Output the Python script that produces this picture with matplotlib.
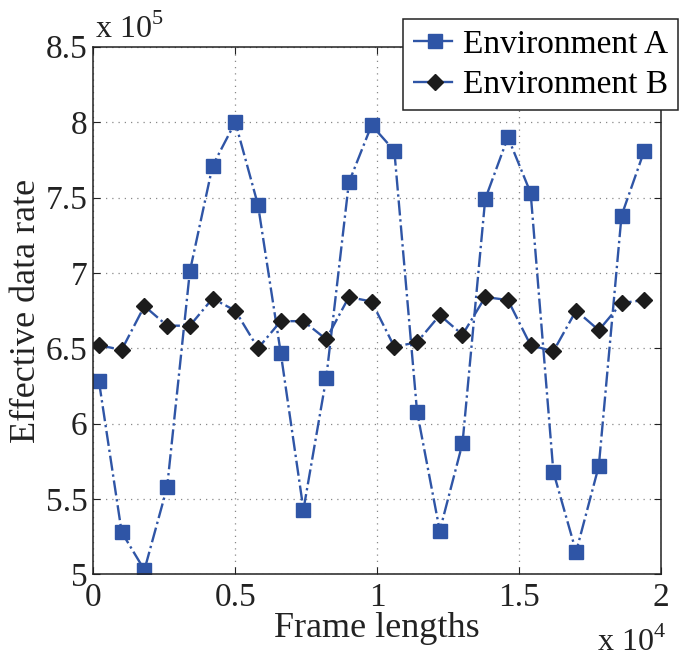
import numpy as np
import matplotlib
matplotlib.use("Agg")
import matplotlib.pyplot as plt
from matplotlib.ticker import FuncFormatter

plt.rcParams['font.family'] = 'Liberation Serif'
plt.rcParams['mathtext.fontset'] = 'custom'
plt.rcParams['mathtext.rm'] = 'Liberation Serif'

# frame lengths
frame_len = [200, 1000, 1800, 2600, 3400, 4200, 5000, 5800, 6600, 7400,
             8200, 9000, 9800, 10600, 11400, 12200, 13000, 13800, 14600,
             15400, 16200, 17000, 17800, 18600, 19400]

# effective data rate, in units of 1e5
env_a = [6.28, 5.28, 5.03, 5.58, 7.01, 7.71, 8.00, 7.45, 6.47, 5.43,
         6.30, 7.60, 7.98, 7.81, 6.08, 5.29, 5.87, 7.49, 7.90, 7.53,
         5.68, 5.15, 5.72, 7.38, 7.81]
env_b = [6.52, 6.49, 6.78, 6.65, 6.65, 6.83, 6.75, 6.50, 6.68, 6.68,
         6.56, 6.84, 6.81, 6.51, 6.54, 6.72, 6.59, 6.84, 6.82, 6.52,
         6.48, 6.75, 6.62, 6.80, 6.82]

labels = ['Environment A', 'Environment B']

BLUE = '#2f55a6'
DARK = '#1c1c1c'
INK = '#222222'

fig = plt.figure(figsize=(6.9, 6.61), dpi=100)
ax = fig.add_axes([0.1352, 0.1309, 0.8232, 0.7984])

ya = np.array(env_a) * 1e5
yb = np.array(env_b) * 1e5

ax.plot(frame_len, ya, linestyle='-.', color=BLUE, lw=1.7,
        marker='s', markersize=9.5, markerfacecolor=BLUE,
        markeredgecolor=BLUE, label=labels[0])
ax.plot(frame_len, yb, linestyle='-.', color=BLUE, lw=1.7,
        marker='D', markersize=8, markerfacecolor=DARK,
        markeredgecolor=DARK, label=labels[1])

ax.set_xlim(0, 20000)
ax.set_ylim(5e5, 8.5e5)
ax.set_xticks([0, 5000, 10000, 15000, 20000])
ax.set_yticks(np.arange(5e5, 8.51e5, 0.5e5))

def short(v):
    s = f'{v:.1f}'
    return s[:-2] if s.endswith('.0') else s

ax.xaxis.set_major_formatter(FuncFormatter(lambda v, p: short(v / 1e4)))
ax.yaxis.set_major_formatter(FuncFormatter(lambda v, p: short(v / 1e5)))

ax.tick_params(direction='in', top=True, right=True, labelsize=24,
               length=5, width=0.8, colors=INK)
ax.tick_params(axis='x', pad=6)
ax.tick_params(axis='y', pad=4)
ax.grid(True, linestyle=(0, (1, 4)), color='#888888', lw=0.9)
for sp in ax.spines.values():
    sp.set_linewidth(1.1)
    sp.set_color(INK)

ax.set_xlabel('Frame lengths', fontsize=26, color=INK)
ax.set_ylabel('Effective data rate', fontsize=26, color=INK)
ax.xaxis.set_label_coords(0.5, -0.072)
ax.yaxis.set_label_coords(-0.088, 0.5)

# exponent labels
fig.text(0.137, 0.932, r'x 10$^{5}$', fontsize=23, color=INK,
         ha='left', va='bottom')
fig.text(0.965, 0.004, r'x 10$^{4}$', fontsize=23, color=INK,
         ha='right', va='bottom')

leg = ax.legend(loc='upper right', bbox_to_anchor=(0.983, 0.971),
                bbox_transform=fig.transFigure, fontsize=24,
                frameon=True, fancybox=False, framealpha=1,
                edgecolor=INK, borderpad=0.3, labelspacing=0.3,
                handlelength=1.3, handletextpad=0.2, borderaxespad=0)
leg.get_frame().set_linewidth(1.1)

fig.savefig('out.png', dpi=100)
